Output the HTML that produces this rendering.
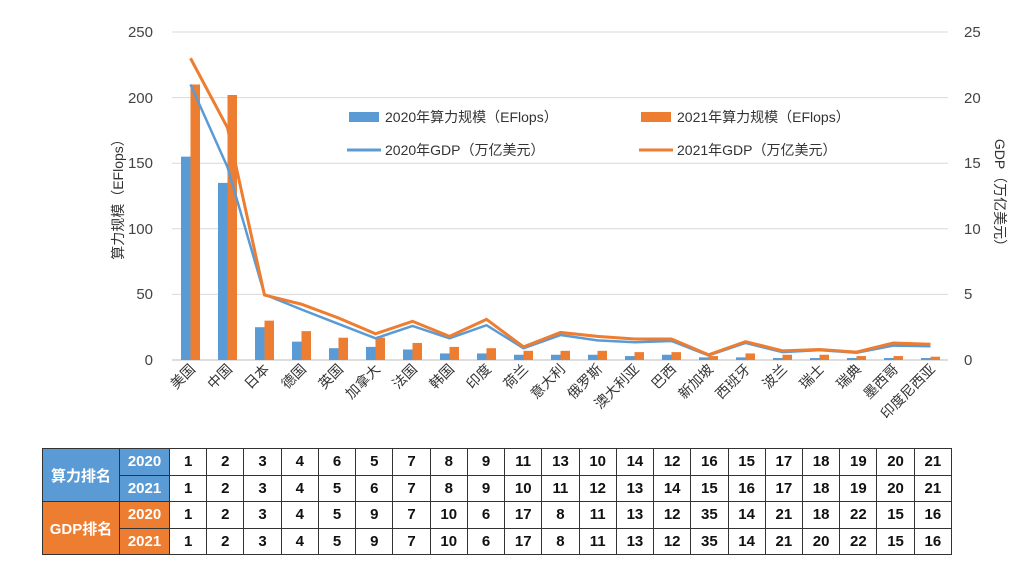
<!DOCTYPE html>
<html><head><meta charset="utf-8"><style>
body{margin:0;width:1016px;height:576px;background:#fff;overflow:hidden;font-family:"Liberation Sans","Noto Sans CJK SC",sans-serif;}
svg{position:absolute;left:0;top:0}
table{position:absolute;left:42px;top:448px;border-collapse:collapse;table-layout:fixed;width:910px}
td{border:1.5px solid #333;height:25.5px;padding:0;text-align:center;font-size:15px;font-weight:bold;color:#111;}
td.l{color:#fff;font-size:15px}
td.y{color:#fff;font-size:15px}
.b{background:#5b9bd5}.o{background:#ed7d31}
</style></head><body>
<svg width="1016" height="576" font-family="Liberation Sans, Noto Sans CJK SC, sans-serif">
<g stroke="#d9d9d9" stroke-width="1">
<line x1="172" x2="948" y1="32" y2="32"/><line x1="172" x2="948" y1="97.6" y2="97.6"/><line x1="172" x2="948" y1="163.2" y2="163.2"/><line x1="172" x2="948" y1="228.8" y2="228.8"/><line x1="172" x2="948" y1="294.4" y2="294.4"/><line x1="172" x2="948" y1="360" y2="360" stroke="#bbb"/>
</g>
<g font-size="15" fill="#444" text-anchor="end">
<text x="153" y="37">250</text><text x="153" y="103">200</text><text x="153" y="168">150</text><text x="153" y="234">100</text><text x="153" y="299">50</text><text x="153" y="365">0</text>
</g>
<g font-size="15" fill="#444" text-anchor="start">
<text x="964" y="37">25</text><text x="964" y="103">20</text><text x="964" y="168">15</text><text x="964" y="234">10</text><text x="964" y="299">5</text><text x="964" y="365">0</text>
</g>
<text transform="translate(123,196) rotate(-90)" font-size="14" fill="#333" text-anchor="middle">算力规模（EFlops）</text>
<text transform="translate(995,196) rotate(90)" font-size="14" fill="#333" text-anchor="middle">GDP（万亿美元）</text>
<g id="bars"></g>
<polyline id="l20" fill="none" stroke="#5b9bd5" stroke-width="2.5"/>
<polyline id="l21" fill="none" stroke="#ed7d31" stroke-width="3"/>
<rect x="349" y="112" width="30" height="10" fill="#5b9bd5"/>
<text x="385" y="122" font-size="14" fill="#333">2020年算力规模（EFlops）</text>
<rect x="641" y="112" width="30" height="10" fill="#ed7d31"/>
<text x="677" y="122" font-size="14" fill="#333">2021年算力规模（EFlops）</text>
<line x1="347" x2="381" y1="150" y2="150" stroke="#5b9bd5" stroke-width="3"/>
<text x="385" y="155" font-size="14" fill="#333">2020年GDP（万亿美元）</text>
<line x1="639" x2="673" y1="150" y2="150" stroke="#ed7d31" stroke-width="3"/>
<text x="677" y="155" font-size="14" fill="#333">2021年GDP（万亿美元）</text>
<g font-size="14" fill="#333" text-anchor="end">
<text transform="translate(196,370) rotate(-45)">美国</text>
<text transform="translate(233,370) rotate(-45)">中国</text>
<text transform="translate(270,370) rotate(-45)">日本</text>
<text transform="translate(307,370) rotate(-45)">德国</text>
<text transform="translate(344,370) rotate(-45)">英国</text>
<text transform="translate(381,370) rotate(-45)">加拿大</text>
<text transform="translate(418,370) rotate(-45)">法国</text>
<text transform="translate(455,370) rotate(-45)">韩国</text>
<text transform="translate(492,370) rotate(-45)">印度</text>
<text transform="translate(529,370) rotate(-45)">荷兰</text>
<text transform="translate(566,370) rotate(-45)">意大利</text>
<text transform="translate(603,370) rotate(-45)">俄罗斯</text>
<text transform="translate(640,370) rotate(-45)">澳大利亚</text>
<text transform="translate(677,370) rotate(-45)">巴西</text>
<text transform="translate(714,370) rotate(-45)">新加坡</text>
<text transform="translate(751,370) rotate(-45)">西班牙</text>
<text transform="translate(788,370) rotate(-45)">波兰</text>
<text transform="translate(825,370) rotate(-45)">瑞士</text>
<text transform="translate(862,370) rotate(-45)">瑞典</text>
<text transform="translate(899,370) rotate(-45)">墨西哥</text>
<text transform="translate(936,370) rotate(-45)">印度尼西亚</text>
</g>
</svg>
<table>
<colgroup><col style="width:77px"><col style="width:50px"><col span="21"></colgroup>
<tr><td class="l b" rowspan="2">算力排名</td><td class="y b">2020</td><td>1</td><td>2</td><td>3</td><td>4</td><td>6</td><td>5</td><td>7</td><td>8</td><td>9</td><td>11</td><td>13</td><td>10</td><td>14</td><td>12</td><td>16</td><td>15</td><td>17</td><td>18</td><td>19</td><td>20</td><td>21</td></tr>
<tr><td class="y b">2021</td><td>1</td><td>2</td><td>3</td><td>4</td><td>5</td><td>6</td><td>7</td><td>8</td><td>9</td><td>10</td><td>11</td><td>12</td><td>13</td><td>14</td><td>15</td><td>16</td><td>17</td><td>18</td><td>19</td><td>20</td><td>21</td></tr>
<tr><td class="l o" rowspan="2">GDP排名</td><td class="y o">2020</td><td>1</td><td>2</td><td>3</td><td>4</td><td>5</td><td>9</td><td>7</td><td>10</td><td>6</td><td>17</td><td>8</td><td>11</td><td>13</td><td>12</td><td>35</td><td>14</td><td>21</td><td>18</td><td>22</td><td>15</td><td>16</td></tr>
<tr><td class="y o">2021</td><td>1</td><td>2</td><td>3</td><td>4</td><td>5</td><td>9</td><td>7</td><td>10</td><td>6</td><td>17</td><td>8</td><td>11</td><td>13</td><td>12</td><td>35</td><td>14</td><td>21</td><td>20</td><td>22</td><td>15</td><td>16</td></tr>
</table>
<script>
var b20=[155,135,25,14,9,10,8,5,5,4,4,4,3,4,2,2,1.5,1.5,1.5,1.5,1.5];
var b21=[210,202,30,22,17,17,13,10,9,7,7,7,6,6,3,5,4,4,3,3,2.5];
var g20=[21,14.7,5.0,3.85,2.75,1.65,2.6,1.65,2.65,0.9,1.9,1.5,1.35,1.45,0.35,1.3,0.6,0.75,0.55,1.1,1.05];
var g21=[23,17.7,4.95,4.25,3.2,2.0,2.95,1.8,3.1,1.0,2.1,1.8,1.6,1.6,0.4,1.4,0.7,0.8,0.6,1.3,1.2];
var ns="http://www.w3.org/2000/svg",g=document.getElementById('bars'),p20=[],p21=[];
function r(x,v,c){var e=document.createElementNS(ns,'rect');var h=v*1.312;e.setAttribute('x',x);e.setAttribute('y',360-h);e.setAttribute('width',9.5);e.setAttribute('height',h);e.setAttribute('fill',c);g.appendChild(e);}
for(var i=0;i<21;i++){var cx=190.5+37*i;
r(cx-9.5,b20[i],'#5b9bd5');r(cx,b21[i],'#ed7d31');
p20.push(cx+','+(360-g20[i]*13.12));p21.push(cx+','+(360-g21[i]*13.12));}
document.getElementById('l20').setAttribute('points',p20.join(' '));
document.getElementById('l21').setAttribute('points',p21.join(' '));
</script>
</body></html>
